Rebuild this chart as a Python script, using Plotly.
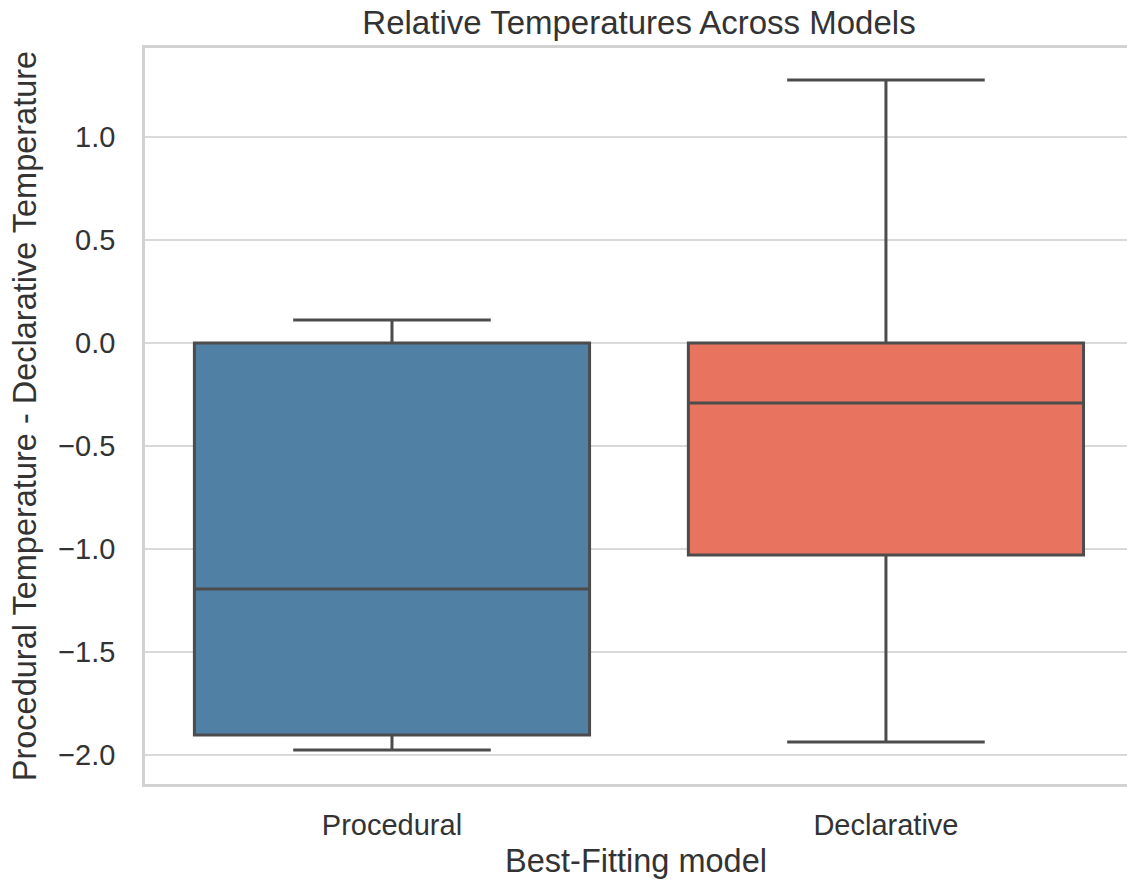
import plotly.graph_objects as go

# Summary statistics per best-fitting model
models = ["Procedural", "Declarative"]
lower_whisker = [-1.976, -1.937]
q1_values = [-1.903, -1.029]
medians = [-1.194, -0.291]
q3_values = [0.0, 0.0]
upper_whisker = [0.112, 1.277]
fill_colors = ["#5180a5", "#e8735f"]

y_ticks = [-2.0, -1.5, -1.0, -0.5, 0.0, 0.5, 1.0]

fig = go.Figure()
for i, name in enumerate(models):
    fig.add_trace(go.Box(
        x=[name],
        q1=[q1_values[i]],
        median=[medians[i]],
        q3=[q3_values[i]],
        lowerfence=[lower_whisker[i]],
        upperfence=[upper_whisker[i]],
        fillcolor=fill_colors[i],
        line=dict(color="#4c4c4c", width=3),
        width=0.8,
        whiskerwidth=0.5,
        boxpoints=False,
        hoverinfo="skip",
        showlegend=False,
    ))

font_family = "Liberation Sans, Arial, sans-serif"
text_color = "#333333"

fig.update_layout(
    width=1127,
    height=884,
    margin=dict(l=145, r=0, t=48, b=100, autoexpand=False),
    paper_bgcolor="white",
    plot_bgcolor="white",
    font=dict(family=font_family, color=text_color, size=29),
    title=dict(
        text="Relative Temperatures Across Models",
        x=0.567, xanchor="center",
        y=0.975, yanchor="middle",
        font=dict(size=33, color=text_color),
    ),
)

fig.update_xaxes(
    type="category",
    range=[-0.5, 1.488],
    showgrid=False,
    showline=True,
    mirror=True,
    linecolor="#d2d2d2",
    linewidth=2.5,
    ticks="",
    ticklabelstandoff=13,
    tickfont=dict(size=29, color=text_color),
    title=dict(text="Best-Fitting model", font=dict(size=32.5, color=text_color), standoff=10),
    zeroline=False,
    automargin=False,
)

fig.update_yaxes(
    range=[-2.141, 1.432],
    tickvals=y_ticks,
    ticktext=[f"{v:.1f}".replace("-", "\u2212") for v in y_ticks],
    showgrid=True,
    gridcolor="#d9d9d9",
    gridwidth=1.5,
    showline=True,
    mirror=True,
    linecolor="#d2d2d2",
    linewidth=2.5,
    ticks="",
    ticklabelstandoff=21,
    tickfont=dict(size=29, color=text_color),
    title=dict(text="Procedural Temperature - Declarative Temperature",
               font=dict(size=32.5, color=text_color), standoff=12),
    zeroline=False,
    automargin=False,
)

fig.write_html("out.html")
